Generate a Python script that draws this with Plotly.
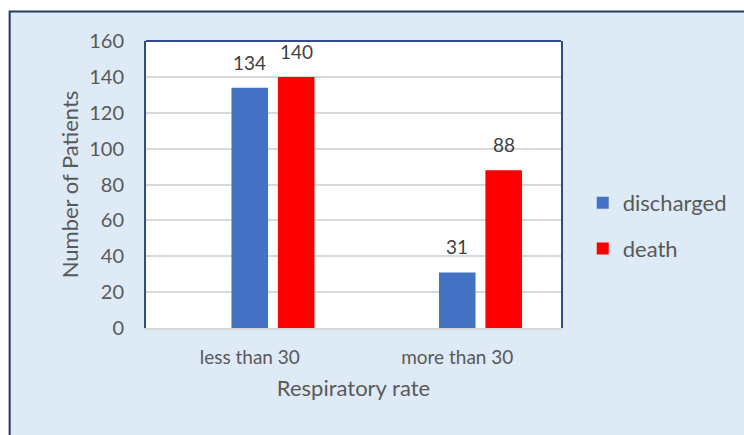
import plotly.graph_objects as go

# Patients by respiratory rate group and outcome
categories = ["less than 30", "more than 30"]
discharged = [134, 31]
death = [140, 88]
y_ticks = [0, 20, 40, 60, 80, 100, 120, 140, 160]

FONT = "Lato"
GREY = "#595959"
W, H = 744, 435
L, R, T, B = 146, 178, 41, 107
plot_w = W - L - R
plot_h = H - T - B

# Bar geometry in category units (one category = 1.0)
cat_px = plot_w / len(categories)
bar_w = 37 / cat_px
slot = 47 / cat_px

fig = go.Figure()
fig.add_trace(go.Bar(name="discharged", x=categories, y=discharged,
                     width=bar_w, offset=-bar_w / 2,
                     marker=dict(color="#4472C4", line=dict(width=0)),
                     legendgroup="a"))
fig.add_trace(go.Bar(name="death", x=categories, y=death,
                     width=bar_w, offset=-bar_w / 2 + slot,
                     marker=dict(color="#FF0000", line=dict(width=0)),
                     legendgroup="b"))

# Value labels above each bar
annotations = []
for series, shift in ((discharged, 0), (death, slot * cat_px)):
    for cat, val in zip(categories, series):
        annotations.append(dict(
            x=cat, y=val, xref="x", yref="y", text=str(val), showarrow=False,
            xshift=shift, yshift=12, yanchor="bottom",
            font=dict(family=FONT, size=19, color="#404040")))

def px_x(p):
    return (p - L) / plot_w

def px_y(p):
    return (H - B - p) / plot_h

shapes = [
    # Outer chart panel with dark frame
    dict(type="rect", xref="paper", yref="paper", layer="below",
         x0=px_x(8), x1=px_x(760), y0=px_y(450), y1=px_y(11.5),
         fillcolor="#DEEAF6", line=dict(color="#1F3864", width=2)),
    # White plot area
    dict(type="rect", xref="paper", yref="paper", layer="below",
         x0=0, x1=1, y0=0, y1=1, fillcolor="white", line=dict(width=0)),
    # Top edge of plot area
    dict(type="line", xref="paper", yref="paper", x0=0, x1=1, y0=1, y1=1,
         line=dict(color="#2F4B8C", width=2)),
]

fig.update_layout(
    width=W, height=H,
    margin=dict(l=L, r=R, t=T, b=B, pad=0),
    paper_bgcolor="white", plot_bgcolor="white",
    barmode="overlay",
    font=dict(family=FONT, color=GREY),
    showlegend=True,
    legend=dict(x=px_x(588), y=px_y(182), xanchor="left", yanchor="top",
                bgcolor="rgba(0,0,0,0)", font=dict(family=FONT, size=22, color=GREY),
                tracegroupgap=14, itemwidth=30),
    annotations=annotations,
    shapes=shapes,
    xaxis=dict(showline=True, linecolor="#D9D9D9", linewidth=2, showgrid=False,
               ticks="", tickfont=dict(family=FONT, size=19, color=GREY),
               ticklabelstandoff=11,
               title=dict(text="Respiratory rate", font=dict(family=FONT, size=22, color=GREY),
                          standoff=14)),
    yaxis=dict(range=[0, 160], tickvals=y_ticks, showgrid=True, gridcolor="#D9D9D9",
               gridwidth=1.5, zeroline=False, showline=True, linecolor="#2F4B8C",
               linewidth=2, mirror=True, ticks="",
               tickfont=dict(family=FONT, size=20, color=GREY), ticklabelstandoff=16,
               title=dict(text="Number of Patients", font=dict(family=FONT, size=22, color=GREY),
                          standoff=4)),
)

fig.write_html("out.html")
